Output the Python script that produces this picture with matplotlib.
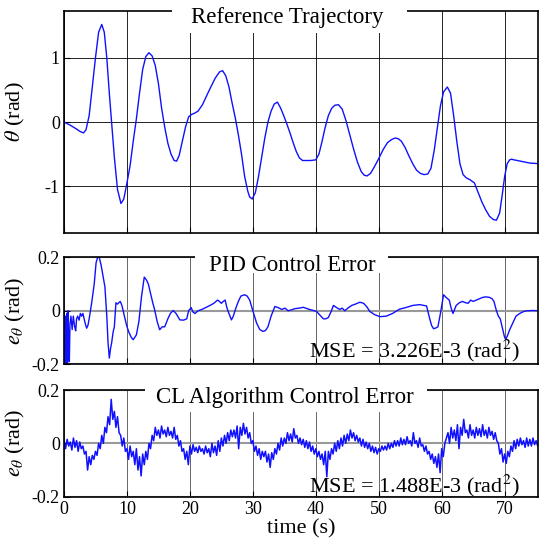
import numpy as np
import matplotlib.pyplot as plt
from matplotlib.patches import Rectangle

plt.rcParams['font.family'] = ['Liberation Serif', 'DejaVu Serif']
plt.rcParams['mathtext.fontset'] = 'stix'

# reference trajectory theta(t)
ref_t = [0.0, 1.0, 2.0, 2.6, 3.1, 3.5, 4.0, 4.5, 5.0, 5.5,
         6.0, 6.4, 6.8, 7.2, 7.6, 8.0, 8.5, 9.05, 9.5, 10.0,
         10.5, 11.0, 11.5, 12.0, 12.5, 13.0, 13.5, 14.0, 14.5, 15.0,
         15.5, 16.0, 16.5, 17.0, 17.5, 17.9, 18.3, 18.8, 19.3, 19.8,
         20.3, 20.8, 21.3, 22.0, 23.0, 24.0, 24.7, 25.2, 25.7, 26.2,
         26.7, 27.2, 27.7, 28.2, 28.7, 29.2, 29.5, 29.9, 30.4, 30.9,
         31.4, 31.9, 32.4, 32.9, 33.4, 33.9, 34.4, 34.9, 35.4, 35.9,
         36.4, 36.9, 37.4, 37.9, 38.5, 39.2, 40.0, 40.5, 41.0, 41.5,
         42.0, 42.5, 43.0, 43.6, 44.2, 44.8, 45.4, 46.0, 46.6, 47.2,
         47.7, 48.15, 48.7, 49.3, 50.0, 50.7, 51.4, 52.1, 52.6, 53.1,
         53.6, 54.2, 54.8, 55.4, 56.0, 56.6, 57.2, 57.8, 58.3, 58.8,
         59.3, 59.8, 60.3, 60.9, 61.4, 61.9, 62.4, 62.9, 63.4, 63.9,
         64.5, 65.2, 65.8, 66.4, 67.0, 67.6, 68.2, 68.7, 69.2, 69.6,
         70.0, 70.4, 70.8, 71.1, 71.5, 72.0, 73.0, 74.0, 75.5]
ref_theta = [0.0, -0.05, -0.11, -0.15, -0.17, -0.12, 0.1, 0.55, 1.0, 1.4,
             1.52, 1.4, 1.0, 0.45, -0.05, -0.55, -1.05, -1.27, -1.2, -0.95,
             -0.68, -0.3, 0.05, 0.45, 0.82, 1.02, 1.08, 1.03, 0.88, 0.6,
             0.22, -0.08, -0.33, -0.5, -0.6, -0.61, -0.52, -0.3, -0.08, 0.08,
             0.12, 0.14, 0.17, 0.27, 0.48, 0.68, 0.78, 0.8, 0.72, 0.55,
             0.3, 0.07, -0.2, -0.5, -0.85, -1.08, -1.17, -1.2, -1.1, -0.85,
             -0.55, -0.25, 0.0, 0.17, 0.28, 0.31, 0.22, 0.1, -0.03, -0.17,
             -0.32, -0.46, -0.56, -0.6, -0.6, -0.6, -0.59, -0.5, -0.3, -0.08,
             0.1, 0.21, 0.26, 0.27, 0.2, 0.02, -0.2, -0.42, -0.62, -0.77,
             -0.83, -0.84, -0.8, -0.7, -0.57, -0.43, -0.32, -0.27, -0.25, -0.26,
             -0.3, -0.4, -0.53, -0.65, -0.75, -0.8, -0.82, -0.81, -0.72, -0.45,
             -0.1, 0.25, 0.47, 0.545, 0.45, 0.1, -0.3, -0.65, -0.82, -0.87,
             -0.9, -0.95, -1.1, -1.25, -1.37, -1.47, -1.52, -1.53, -1.42, -1.15,
             -0.85, -0.65, -0.59, -0.58, -0.59, -0.6, -0.62, -0.64, -0.65]

# PID control error
pid_t = [0.0, 0.16, 0.25, 0.35, 0.45, 0.55, 0.65, 0.75, 0.85, 0.95,
         1.1, 1.3, 1.48, 1.7, 1.86, 2.0, 2.17, 2.4, 2.6, 2.8,
         3.0, 3.2, 3.4, 3.6, 3.8, 4.0, 4.4, 4.8, 5.1, 5.35,
         5.6, 5.9, 6.2, 6.5, 6.8, 7.0, 7.2, 7.4, 7.57, 7.8,
         8.0, 8.25, 8.5, 8.7, 8.94, 9.2, 9.4, 9.7, 9.95, 10.3,
         10.7, 11.0, 11.5, 11.9, 12.3, 12.75, 13.1, 13.4, 13.8, 14.1,
         14.4, 14.8, 15.2, 15.6, 16.0, 16.5, 16.9, 17.35, 17.8, 18.4,
         19.0, 19.5, 19.8, 20.2, 20.5, 20.8, 21.3, 21.9, 22.5, 23.2,
         23.8, 24.4, 24.7, 25.0, 25.3, 25.6, 25.9, 26.2, 26.6, 26.9,
         27.3, 27.7, 28.1, 28.7, 29.1, 29.5, 30.0, 30.6, 31.1, 31.6,
         32.0, 32.4, 32.9, 33.5, 34.0, 34.6, 35.1, 35.6, 36.2, 36.7,
         37.4, 38.0, 39.0, 40.1, 40.6, 41.2, 41.6, 42.0, 42.4, 42.8,
         43.3, 43.8, 44.2, 44.6, 45.1, 45.7, 46.3, 47.0, 47.6, 48.1,
         48.6, 49.4, 50.2, 51.2, 52.2, 53.3, 54.3, 55.4, 56.5, 57.6,
         58.1, 58.4, 58.7, 59.0, 59.4, 59.8, 60.3, 60.7, 61.2, 61.5,
         61.8, 62.3, 62.8, 63.3, 63.8, 64.2, 64.6, 65.0, 65.5, 66.0,
         66.5, 67.0, 67.6, 68.0, 68.3, 68.7, 69.0, 69.3, 69.7, 70.0,
         70.2, 70.5, 70.8, 71.3, 71.8, 72.4, 73.0, 73.5, 74.5, 75.5]
pid_err = [0.0, -0.2, -0.02, -0.2, -0.01, -0.2, 0.0, -0.12, -0.19, -0.05,
           -0.02, -0.07, -0.02, -0.06, -0.075, -0.03, -0.02, -0.035, -0.01, -0.02,
           -0.01, -0.03, -0.05, -0.065, -0.055, -0.03, 0.03, 0.1, 0.18, 0.2,
           0.2, 0.17, 0.13, 0.09, -0.02, -0.12, -0.177, -0.14, -0.12, -0.08,
           -0.06, 0.03, 0.025, 0.03, 0.035, 0.02, 0.0, -0.03, -0.055, -0.08,
           -0.1, -0.108, -0.09, -0.04, 0.05, 0.126, 0.115, 0.1, 0.06, 0.03,
           0.004, -0.04, -0.071, -0.06, -0.06, -0.03, -0.01, 0.001, -0.01, -0.034,
           -0.035, -0.03, 0.0, 0.012, -0.005, -0.01, 0.0, 0.005, 0.012, 0.02,
           0.028, 0.04, 0.035, 0.028, 0.035, 0.04, 0.01, -0.01, -0.034, -0.02,
           0.01, 0.035, 0.055, 0.06, 0.055, 0.04, 0.0, -0.046, -0.07, -0.077,
           -0.074, -0.06, -0.02, 0.016, 0.012, 0.005, 0.01, 0.0, 0.004, 0.008,
           0.01, 0.013, 0.005, -0.002, -0.015, -0.03, -0.03, -0.025, -0.005, 0.02,
           0.012, 0.005, 0.01, 0.0, 0.01, 0.02, 0.025, 0.032, 0.028, 0.015,
           -0.003, -0.015, -0.022, -0.02, -0.01, 0.006, 0.012, 0.02, 0.023, 0.018,
           -0.03, -0.055, -0.067, -0.065, -0.06, -0.01, 0.06, 0.05, 0.04, 0.01,
           -0.01, 0.02, 0.03, 0.035, 0.03, 0.028, 0.04, 0.035, 0.04, 0.045,
           0.05, 0.052, 0.05, 0.045, 0.035, 0.0, -0.02, -0.03, -0.07, -0.1,
           -0.106, -0.09, -0.071, -0.045, -0.02, -0.01, -0.003, 0.0, 0.001, 0.0]

# CL algorithm control error, 4 samples per second (one row = one second)
cl_dt = 0.25
cl_err = [0.01, -0.02, 0.015, -0.01,
          0.005, -0.025, 0.02, -0.015,
          0.01, -0.03, 0.005, -0.02,
          -0.01, -0.04, -0.03, -0.1,
          -0.05, -0.08, -0.045, -0.06,
          -0.03, -0.045, 0.0, -0.02,
          0.03, 0.0, 0.06, 0.04,
          0.1, 0.07, 0.165, 0.09,
          0.12, 0.06, 0.1, 0.04,
          0.03, -0.01, 0.02, -0.03,
          -0.02, -0.06, -0.01, -0.05,
          -0.03, -0.08, -0.02, -0.1,
          -0.05, -0.122, -0.04, -0.08,
          -0.03, -0.06, 0.0, -0.02,
          0.03, 0.01, 0.06, 0.03,
          0.05, 0.02, 0.065, 0.035,
          0.05, 0.025, 0.06, 0.03,
          0.045, 0.02, 0.06, 0.015,
          0.03, -0.01, 0.01, -0.03,
          -0.02, -0.06, -0.03, -0.08,
          -0.01, -0.04, -0.005, -0.03,
          -0.015, -0.035, -0.01, -0.03,
          -0.02, -0.04, -0.01, -0.035,
          -0.02, -0.05, 0.0, -0.035,
          -0.01, -0.045, 0.01, -0.03,
          0.02, -0.01, 0.03, 0.0,
          0.04, 0.01, 0.05, 0.025,
          0.05, 0.02, 0.065, -0.02,
          0.06, 0.03, 0.075, 0.035,
          0.06, 0.02, 0.04, 0.0,
          0.01, -0.03, -0.01, -0.045,
          -0.02, -0.06, -0.03, -0.05,
          -0.03, -0.07, -0.04, -0.09,
          -0.035, -0.06, -0.02, -0.04,
          0.0, -0.025, 0.02, -0.01,
          0.02, 0.0, 0.04, 0.01,
          0.035, 0.005, 0.055, 0.02,
          0.03, 0.0, 0.02, -0.005,
          0.015, -0.015, 0.01, -0.02,
          0.005, -0.03, -0.01, -0.04,
          -0.02, -0.05, -0.03, -0.06,
          -0.04, -0.08, -0.03, -0.125,
          -0.03, -0.06, -0.02, -0.04,
          0.0, -0.03, 0.01, -0.02,
          0.02, -0.01, 0.03, 0.0,
          0.035, 0.01, 0.05, 0.02,
          0.04, 0.01, 0.03, 0.005,
          0.02, -0.01, 0.015, -0.015,
          0.005, -0.02, 0.0, -0.03,
          -0.01, -0.035, -0.015, -0.04,
          -0.02, -0.03, -0.01, -0.025,
          -0.01, -0.025, 0.0, -0.02,
          0.0, -0.015, 0.01, -0.01,
          0.01, -0.01, 0.02, -0.005,
          0.015, -0.005, 0.025, 0.0,
          0.01, -0.01, 0.04, 0.0,
          0.01, -0.015, 0.02, -0.01,
          -0.005, -0.03, -0.01, -0.04,
          -0.03, -0.06, -0.04, -0.075,
          -0.05, -0.09, -0.04, -0.11,
          -0.02, -0.05, 0.0, 0.02,
          0.04, 0.0, 0.06, 0.02,
          0.05, 0.01, 0.07, -0.02,
          0.06, 0.03, 0.09, 0.04,
          0.05, 0.02, 0.07, 0.03,
          0.05, 0.02, 0.06, 0.03,
          0.055, 0.025, 0.07, 0.03,
          0.05, 0.02, 0.06, 0.03,
          0.045, 0.015, 0.04, 0.01,
          0.0, -0.04, -0.02, -0.07,
          -0.04, -0.075, -0.03, -0.05,
          -0.01, -0.03, 0.01, -0.02,
          0.015, -0.01, 0.02, -0.005,
          0.01, -0.015, 0.02, -0.01,
          0.015, -0.01, 0.02, -0.005,
          0.01, -0.01]
cl_t = np.arange(len(cl_err)) * cl_dt

titles = ['Reference Trajectory', 'PID Control Error', 'CL Algorithm Control Error']
mse_texts = ['MSE = 3.226E-3 (rad$^2$)', 'MSE = 1.488E-3 (rad$^2$)']
x_ticks = [0, 10, 20, 30, 40, 50, 60, 70]

fig = plt.figure(figsize=(5.4, 5.42), dpi=100)
left, width = 0.1185, 0.8778
ax1 = fig.add_axes([left, 0.5701, width, 0.4096])
ax2 = fig.add_axes([left, 0.3279, width, 0.1974])
ax3 = fig.add_axes([left, 0.0836, width, 0.1968])

blue = '#1010ff'
ax1.plot(ref_t, ref_theta, color=blue, lw=1.0)
ax2.plot(pid_t, pid_err, color=blue, lw=1.0)
ax3.plot(cl_t, cl_err, color=blue, lw=1.1)

ax1.set_ylim(-1.73, 1.73)
ax1.set_yticks([-1, 0, 1], ['-1', '0', '1'])
for ax in (ax2, ax3):
    ax.set_ylim(-0.2, 0.2)
    ax.set_yticks([-0.2, 0, 0.2], ['-0.2', '0', '0.2'])

for ax in (ax1, ax2, ax3):
    ax.set_xlim(0, 75.3)
    ax.set_xticks(x_ticks)
    ax.tick_params(direction='in', length=4, width=0.8, labelsize=13,
                   top=False, right=False, pad=3)
    for s in ax.spines.values():
        s.set_linewidth(1.2)
ax1.tick_params(labelbottom=False)
ax2.tick_params(labelbottom=False)

ax1.grid(True, color='k', lw=0.6)
for ax in (ax2, ax3):
    ax.xaxis.grid(True, color='0.4', lw=0.7)
    ax.yaxis.grid(True, color='0.6', lw=1.5)

ax1.set_ylabel(r'$\theta$ (rad)', fontsize=16)
ax2.set_ylabel(r'$e_\theta$ (rad)', fontsize=16)
ax3.set_ylabel(r'$e_\theta$ (rad)', fontsize=16)
ax1.yaxis.set_label_coords(-0.078, 0.545)
ax2.yaxis.set_label_coords(-0.078, 0.5)
ax3.yaxis.set_label_coords(-0.078, 0.5)
ax3.set_xlabel('time (s)', fontsize=16)
ax3.xaxis.set_label_coords(0.5, -0.215)

# white boxes hiding the top spine behind each title
boxes = [(0.228, 0.90, 0.496, 0.15), (0.276, 0.853, 0.408, 0.21),
         (0.171, 0.794, 0.595, 0.28)]
title_pos = [(0.47, 0.947), (0.481, 0.872), (0.466, 0.881)]
for ax, title, box, pos in zip((ax1, ax2, ax3), titles, boxes, title_pos):
    ax.add_patch(Rectangle(box[:2], box[2], box[3], transform=ax.transAxes,
                           facecolor='white', edgecolor='none', clip_on=False,
                           zorder=3))
    ax.text(pos[0], pos[1], title, transform=ax.transAxes, ha='center',
            va='baseline', fontsize=16.5, zorder=4)

ax2.text(0.962, 0.07, mse_texts[0], transform=ax2.transAxes, ha='right',
         va='baseline', fontsize=16, zorder=4)
ax3.text(0.962, 0.044, mse_texts[1], transform=ax3.transAxes, ha='right',
         va='baseline', fontsize=16, zorder=4)

fig.savefig('out.png', dpi=100)
